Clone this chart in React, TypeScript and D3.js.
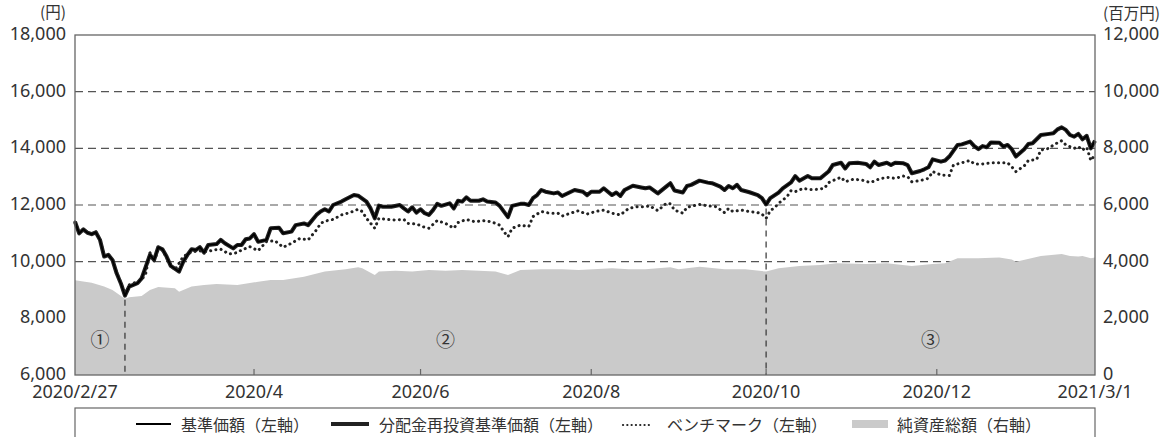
import React from "react";
import * as d3 from "d3";

// ---------- data ----------
const startDate = "2020-02-27";
const endDate = "2021-03-01";
// Japanese market holidays inside the period (non-business days for NAV)
const holidays = [
  "2020-03-20", "2020-04-29", "2020-05-04", "2020-05-05", "2020-05-06",
  "2020-07-23", "2020-07-24", "2020-08-10", "2020-09-21", "2020-09-22",
  "2020-11-03", "2020-11-23", "2020-12-31", "2021-01-01", "2021-01-11",
  "2021-02-11", "2021-02-23",
];

const xTickDates = ["2020-02-27", "2020-04-30", "2020-06-30", "2020-08-31", "2020-10-30", "2020-12-30", "2021-03-01"];
const xTickLabels = ["2020/2/27", "2020/4", "2020/6", "2020/8", "2020/10", "2020/12", "2021/3/1"];
const leftTicks = [6000, 8000, 10000, 12000, 14000, 16000, 18000];
const rightTicks = [0, 2000, 4000, 6000, 8000, 10000, 12000];
const gridValues = [10000, 12000, 14000, 16000];
const phaseDates = ["2020-03-16", "2020-10-30"];
const phaseLabels = ["①", "②", "③"];
const legendLabels = ["基準価額（左軸）", "分配金再投資基準価額（左軸）", "ベンチマーク（左軸）", "純資産総額（右軸）"];

// 基準価額 (円)
const nav: [string, number][] = [
  ["2020-02-27",11410],["2020-02-28",11000],["2020-03-02",11140],["2020-03-03",11020],["2020-03-04",10970],["2020-03-05",11035],["2020-03-06",10770],["2020-03-09",10180],["2020-03-10",10240],["2020-03-11",10060],["2020-03-12",9590],["2020-03-13",9240],["2020-03-16",8800],["2020-03-17",9120],["2020-03-18",9180],["2020-03-19",9240],["2020-03-23",9410],["2020-03-24",9820],["2020-03-25",10240],["2020-03-26",10060],["2020-03-27",10510],["2020-03-30",10440],["2020-03-31",10180],["2020-04-01",9850],["2020-04-03",9650],["2020-04-06",10000],["2020-04-07",10240],["2020-04-08",10440],["2020-04-09",10410],["2020-04-10",10510],["2020-04-13",10320],["2020-04-14",10590],["2020-04-16",10620],["2020-04-17",10770],["2020-04-20",10650],["2020-04-22",10470],["2020-04-23",10590],["2020-04-24",10590],["2020-04-27",10790],["2020-04-28",10820],["2020-04-30",10970],["2020-05-01",10700],["2020-05-08",10770],["2020-05-11",11180],["2020-05-13",11200],["2020-05-14",11000],["2020-05-18",11060],["2020-05-19",11290],["2020-05-21",11350],["2020-05-22",11290],["2020-05-26",11650],["2020-05-27",11770],["2020-05-28",11850],["2020-05-29",11770],["2020-06-01",12000],["2020-06-03",12120],["2020-06-04",12200],["2020-06-08",12350],["2020-06-09",12330],["2020-06-11",12120],["2020-06-12",11880],["2020-06-15",11530],["2020-06-16",11980],["2020-06-17",11940],["2020-06-19",11940],["2020-06-23",12000],["2020-06-24",11880],["2020-06-25",11770],["2020-06-26",11920],["2020-06-29",11730],["2020-06-30",11850],["2020-07-01",11710],["2020-07-02",11650],["2020-07-03",11820],["2020-07-06",12040],["2020-07-07",11970],["2020-07-09",12060],["2020-07-10",11880],["2020-07-13",12150],["2020-07-14",12120],["2020-07-15",12270],["2020-07-16",12150],["2020-07-20",12150],["2020-07-21",12200],["2020-07-22",12120],["2020-07-28",12090],["2020-07-29",11970],["2020-07-31",11570],["2020-08-03",11970],["2020-08-05",12040],["2020-08-06",12040],["2020-08-07",12000],["2020-08-11",12240],["2020-08-12",12350],["2020-08-13",12530],["2020-08-14",12470],["2020-08-18",12410],["2020-08-19",12440],["2020-08-20",12320],["2020-08-21",12390],["2020-08-25",12530],["2020-08-27",12470],["2020-08-28",12350],["2020-08-31",12470],["2020-09-02",12470],["2020-09-03",12590],["2020-09-04",12470],["2020-09-07",12350],["2020-09-08",12440],["2020-09-09",12320],["2020-09-10",12530],["2020-09-14",12680],["2020-09-16",12620],["2020-09-17",12590],["2020-09-18",12620],["2020-09-24",12410],["2020-09-28",12650],["2020-09-29",12770],["2020-09-30",12510],["2020-10-02",12440],["2020-10-05",12670],["2020-10-06",12710],["2020-10-08",12860],["2020-10-12",12790],["2020-10-13",12770],["2020-10-15",12650],["2020-10-16",12530],["2020-10-19",12670],["2020-10-20",12590],["2020-10-21",12710],["2020-10-22",12530],["2020-10-26",12450],["2020-10-28",12350],["2020-10-29",12240],["2020-10-30",12020],["2020-11-02",12240],["2020-11-05",12440],["2020-11-06",12590],["2020-11-10",12800],["2020-11-11",13020],["2020-11-12",12860],["2020-11-16",13020],["2020-11-17",12940],["2020-11-19",12940],["2020-11-24",13180],["2020-11-25",13410],["2020-11-27",13490],["2020-11-30",13290],["2020-12-01",13470],["2020-12-03",13490],["2020-12-07",13450],["2020-12-08",13330],["2020-12-09",13530],["2020-12-10",13410],["2020-12-14",13490],["2020-12-15",13410],["2020-12-16",13490],["2020-12-18",13470],["2020-12-21",13410],["2020-12-22",13120],["2020-12-24",13200],["2020-12-25",13260],["2020-12-28",13330],["2020-12-29",13610],["2021-01-04",13530],["2021-01-05",13570],["2021-01-06",13710],["2021-01-08",14120],["2021-01-12",14140],["2021-01-14",14240],["2021-01-15",14080],["2021-01-18",13970],["2021-01-19",14080],["2021-01-20",14040],["2021-01-21",14210],["2021-01-25",14200],["2021-01-26",14060],["2021-01-27",14120],["2021-01-28",13970],["2021-01-29",13710],["2021-02-02",13970],["2021-02-03",14150],["2021-02-04",14180],["2021-02-08",14470],["2021-02-10",14510],["2021-02-12",14530],["2021-02-15",14670],["2021-02-16",14740],["2021-02-17",14650],["2021-02-18",14470],["2021-02-19",14410],["2021-02-22",14510],["2021-02-24",14320],["2021-02-25",14440],["2021-02-26",14000],["2021-03-01",14270],
];

// 分配金再投資基準価額 (円) — identical to 基準価額 in this period (no distributions)
const navReinvested: [string, number][] = nav;

// ベンチマーク (円)
const benchmark: [string, number][] = [
  ["2020-02-27",11400],["2020-02-28",11010],["2020-03-02",11150],["2020-03-03",11030],["2020-03-04",10980],["2020-03-05",11040],["2020-03-06",10780],["2020-03-09",10200],["2020-03-10",10250],["2020-03-11",10080],["2020-03-12",9610],["2020-03-13",9260],["2020-03-16",8830],["2020-03-17",9180],["2020-03-19",9290],["2020-03-23",9350],["2020-03-24",9590],["2020-03-25",10320],["2020-03-26",10000],["2020-03-27",10440],["2020-03-30",10410],["2020-03-31",10150],["2020-04-01",9880],["2020-04-02",9710],["2020-04-06",10180],["2020-04-08",10350],["2020-04-10",10380],["2020-04-14",10350],["2020-04-15",10410],["2020-04-17",10440],["2020-04-21",10270],["2020-04-23",10320],["2020-04-24",10410],["2020-04-28",10530],["2020-05-01",10390],["2020-05-08",10710],["2020-05-12",10740],["2020-05-14",10510],["2020-05-18",10650],["2020-05-20",10820],["2020-05-22",10770],["2020-05-26",11120],["2020-05-27",11350],["2020-05-28",11430],["2020-06-01",11490],["2020-06-03",11650],["2020-06-05",11730],["2020-06-09",11850],["2020-06-10",11770],["2020-06-11",11530],["2020-06-15",11180],["2020-06-16",11530],["2020-06-18",11490],["2020-06-22",11470],["2020-06-24",11490],["2020-06-25",11350],["2020-06-29",11330],["2020-07-01",11210],["2020-07-02",11180],["2020-07-06",11450],["2020-07-08",11350],["2020-07-10",11180],["2020-07-13",11380],["2020-07-15",11490],["2020-07-17",11410],["2020-07-21",11450],["2020-07-27",11410],["2020-07-29",11290],["2020-07-30",11060],["2020-07-31",10880],["2020-08-03",11180],["2020-08-05",11290],["2020-08-07",11240],["2020-08-11",11590],["2020-08-13",11770],["2020-08-17",11710],["2020-08-19",11710],["2020-08-20",11610],["2020-08-24",11710],["2020-08-26",11800],["2020-08-27",11730],["2020-08-28",11680],["2020-09-01",11770],["2020-09-03",11820],["2020-09-07",11710],["2020-09-09",11650],["2020-09-11",11880],["2020-09-15",11940],["2020-09-17",11940],["2020-09-18",11970],["2020-09-24",11800],["2020-09-28",12060],["2020-09-29",12040],["2020-09-30",11820],["2020-10-02",11710],["2020-10-05",11920],["2020-10-08",12020],["2020-10-12",11970],["2020-10-14",11940],["2020-10-16",11730],["2020-10-19",11880],["2020-10-20",11770],["2020-10-22",11820],["2020-10-26",11770],["2020-10-28",11730],["2020-10-29",11680],["2020-10-30",11530],["2020-11-02",11800],["2020-11-04",11900],["2020-11-05",12060],["2020-11-09",12290],["2020-11-10",12510],["2020-11-11",12470],["2020-11-13",12590],["2020-11-16",12550],["2020-11-18",12550],["2020-11-20",12590],["2020-11-24",12790],["2020-11-25",12860],["2020-11-27",12980],["2020-11-30",12820],["2020-12-02",12910],["2020-12-04",12880],["2020-12-08",12790],["2020-12-10",12910],["2020-12-14",12980],["2020-12-16",12940],["2020-12-18",13020],["2020-12-21",13000],["2020-12-22",12820],["2020-12-24",12860],["2020-12-28",12940],["2020-12-29",13180],["2021-01-04",13060],["2021-01-06",13040],["2021-01-07",13410],["2021-01-12",13490],["2021-01-14",13570],["2021-01-15",13450],["2021-01-19",13450],["2021-01-21",13490],["2021-01-25",13490],["2021-01-27",13490],["2021-01-28",13350],["2021-01-29",13180],["2021-02-02",13380],["2021-02-03",13570],["2021-02-05",13610],["2021-02-08",13940],["2021-02-10",14000],["2021-02-12",14120],["2021-02-16",14270],["2021-02-17",14120],["2021-02-19",14000],["2021-02-22",14060],["2021-02-24",13940],["2021-02-25",14040],["2021-02-26",13570],["2021-03-01",13770],
];

// 純資産総額 (百万円)
const netAssets: [string, number][] = [
  ["2020-02-27",3340],["2020-03-04",3260],["2020-03-09",3120],["2020-03-11",3000],["2020-03-16",2690],["2020-03-17",2740],["2020-03-23",2790],["2020-03-25",3000],["2020-03-27",3110],["2020-04-02",3060],["2020-04-03",2940],["2020-04-08",3120],["2020-04-13",3180],["2020-04-16",3210],["2020-04-23",3180],["2020-05-01",3290],["2020-05-11",3350],["2020-05-14",3350],["2020-05-21",3470],["2020-05-28",3650],["2020-06-04",3730],["2020-06-09",3800],["2020-06-10",3770],["2020-06-15",3530],["2020-06-16",3650],["2020-06-22",3680],["2020-06-26",3650],["2020-07-02",3710],["2020-07-08",3680],["2020-07-14",3710],["2020-07-20",3680],["2020-07-28",3650],["2020-07-31",3530],["2020-08-05",3710],["2020-08-13",3730],["2020-08-20",3730],["2020-08-26",3710],["2020-09-07",3770],["2020-09-11",3730],["2020-09-17",3730],["2020-09-29",3800],["2020-10-01",3730],["2020-10-08",3820],["2020-10-16",3730],["2020-10-23",3730],["2020-10-30",3650],["2020-11-05",3770],["2020-11-12",3850],["2020-11-19",3880],["2020-11-26",3940],["2020-12-07",3920],["2020-12-14",3940],["2020-12-22",3850],["2020-12-29",3920],["2021-01-05",3940],["2021-01-08",4120],["2021-01-18",4120],["2021-01-25",4150],["2021-01-28",4080],["2021-01-29",4000],["2021-02-08",4200],["2021-02-16",4270],["2021-02-18",4200],["2021-02-22",4180],["2021-02-24",4200],["2021-02-26",4120],["2021-03-01",4150],
];

// ---------- helpers ----------
const parse = d3.timeParse("%Y-%m-%d");
const fmt = d3.timeFormat("%Y-%m-%d");
const holidaySet = new Set(holidays);
const start = parse(startDate) as Date;
function tradingIndex(s: string): number {
  const d = parse(s) as Date;
  let n = 0;
  for (const day of d3.timeDay.range(d3.timeDay.offset(start, 1), d3.timeDay.offset(d, 1))) {
    const w = day.getDay();
    if (w !== 0 && w !== 6 && !holidaySet.has(fmt(day))) n++;
  }
  return n;
}

const W = 1174, H = 437;
const L = 75, R = 1095, T = 35, B = 375;
const CJK = "'Noto Sans CJK JP', sans-serif";
const NUM = "'Noto Sans', 'Noto Sans CJK JP', sans-serif";
const TXT = "#333";

export default function App() {
  const x = d3.scaleLinear().domain([0, tradingIndex(endDate)]).range([L, R]);
  const yL = d3.scaleLinear().domain([6000, 18000]).range([B, T]);
  const yR = d3.scaleLinear().domain([0, 12000]).range([B, T]);

  const line = d3.line<[string, number]>().x(d => x(tradingIndex(d[0]))).y(d => yL(d[1]));
  const area = d3.area<[string, number]>().x(d => x(tradingIndex(d[0]))).y0(B).y1(d => yR(d[1]));

  const phaseX = phaseDates.map(d => x(tradingIndex(d)));
  const bounds = [L, ...phaseX, R];
  const navMap = new Map(nav);
  const f = d3.format(",");

  return (
    <svg width={W} height={H} style={{ position: "absolute", left: 0, top: 0, background: "#fff" }} fontFamily={CJK}>
      {/* gridlines */}
      {gridValues.map(v => (
        <line key={v} x1={L} x2={R} y1={yL(v)} y2={yL(v)} stroke="#555" strokeWidth={1.2} strokeDasharray="8,5" />
      ))}
      {/* net assets area */}
      <path d={area(netAssets) || ""} fill="#cacaca" />
      {/* phase dashed lines */}
      {phaseDates.map((d, i) => (
        <line key={d} x1={phaseX[i]} x2={phaseX[i]} y1={yL(navMap.get(d) as number) + 4} y2={B}
          stroke="#333" strokeWidth={1.2} strokeDasharray="6,5" />
      ))}
      {/* phase labels */}
      {phaseLabels.map((p, i) => (
        <text key={p} x={(bounds[i] + bounds[i + 1]) / 2} y={338} textAnchor="middle" dominantBaseline="central"
          fontSize={19} fill={TXT}>{p}</text>
      ))}
      {/* benchmark */}
      <path d={line(benchmark) || ""} fill="none" stroke="#222" strokeWidth={3} strokeLinecap="round" strokeDasharray="0.1,5.2" />
      {/* reinvested NAV (thick) and NAV (thin) */}
      <path d={line(navReinvested) || ""} fill="none" stroke="#222" strokeWidth={4} strokeLinejoin="round" />
      <path d={line(nav) || ""} fill="none" stroke="#000" strokeWidth={1.6} strokeLinejoin="round" />
      {/* frame */}
      <rect x={L} y={T} width={R - L} height={B - T} fill="none" stroke="#666" strokeWidth={1.3} />
      {/* x ticks */}
      {xTickDates.slice(1, -1).map(d => (
        <line key={d} x1={x(tradingIndex(d))} x2={x(tradingIndex(d))} y1={B} y2={B - 6} stroke="#666" strokeWidth={1.2} />
      ))}
      {xTickDates.map((d, i) => (
        <text key={d} x={x(tradingIndex(d))} y={398} textAnchor="middle" fontFamily={NUM} fontSize={18} fill={TXT}>
          {xTickLabels[i]}
        </text>
      ))}
      {/* y axes */}
      {leftTicks.map(v => (
        <text key={v} x={66} y={yL(v) + 5} textAnchor="end" fontFamily={NUM} fontSize={18} fill={TXT}>
          {f(v)}
        </text>
      ))}
      {rightTicks.map(v => (
        <text key={v} x={1103} y={yR(v) + 5} textAnchor="start" fontFamily={NUM} fontSize={18} fill={TXT}>
          {f(v)}
        </text>
      ))}
      <text x={66} y={18} textAnchor="end" fontSize={15.5} fill={TXT}>(円)</text>
      <text x={1103} y={19} textAnchor="start" fontSize={15.5} fill={TXT}>(百万円)</text>
      {/* legend */}
      <rect x={L} y={408} width={R - L} height={40} fill="none" stroke="#666" strokeWidth={1.2} />
      <line x1={136} x2={171} y1={424} y2={424} stroke="#000" strokeWidth={1.8} />
      <text x={181} y={424} dominantBaseline="central" fontSize={16} fill={TXT}>{legendLabels[0]}</text>
      <line x1={331} x2={369} y1={424} y2={424} stroke="#222" strokeWidth={4} />
      <text x={379} y={424} dominantBaseline="central" fontSize={16} fill={TXT}>{legendLabels[1]}</text>
      <line x1={623} x2={652} y1={425} y2={425} stroke="#222" strokeWidth={2.2} strokeLinecap="round" strokeDasharray="0.1,4.2" />
      <text x={667} y={424} dominantBaseline="central" fontSize={16} fill={TXT}>{legendLabels[2]}</text>
      <rect x={852} y={420} width={36} height={8} fill="#cacaca" />
      <text x={897} y={424} dominantBaseline="central" fontSize={16} fill={TXT}>{legendLabels[3]}</text>
    </svg>
  );
}
